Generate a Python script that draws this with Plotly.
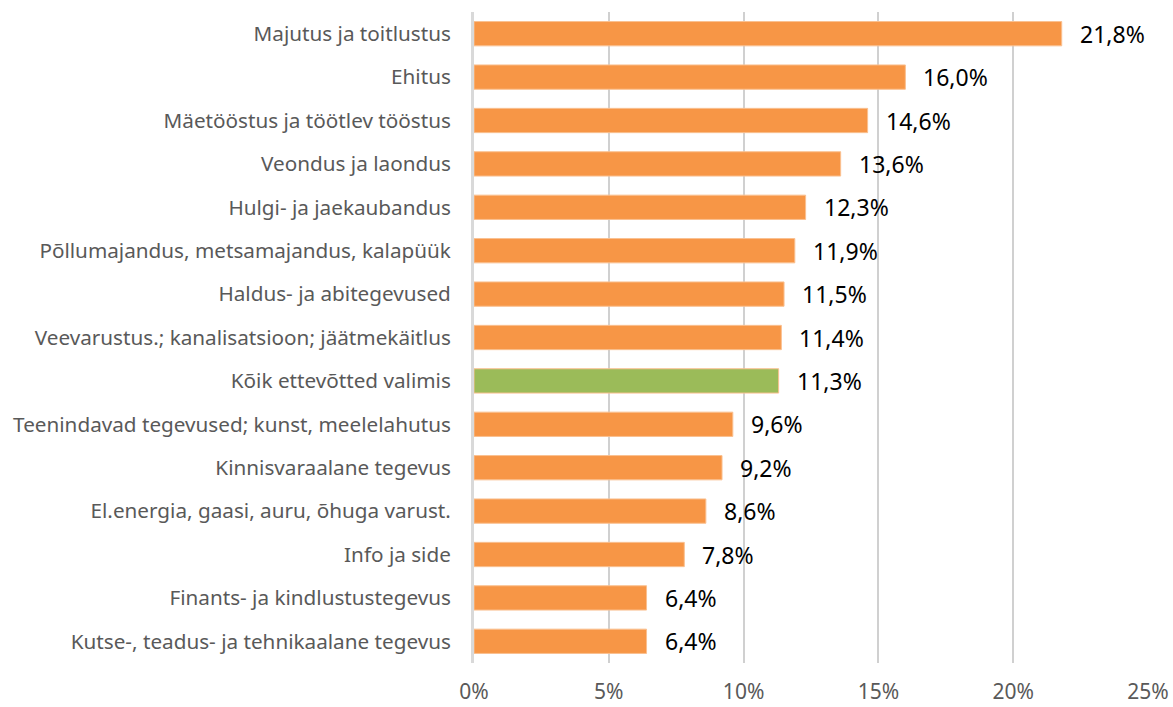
import plotly.graph_objects as go

categories = [
    "Majutus ja toitlustus",
    "Ehitus",
    "Mäetööstus ja töötlev tööstus",
    "Veondus ja laondus",
    "Hulgi- ja jaekaubandus",
    "Põllumajandus, metsamajandus, kalapüük",
    "Haldus- ja abitegevused",
    "Veevarustus.; kanalisatsioon; jäätmekäitlus",
    "Kõik ettevõtted valimis",
    "Teenindavad tegevused; kunst, meelelahutus",
    "Kinnisvaraalane tegevus",
    "El.energia, gaasi, auru, õhuga varust.",
    "Info ja side",
    "Finants- ja kindlustustegevus",
    "Kutse-, teadus- ja tehnikaalane tegevus",
]
values = [21.8, 16.0, 14.6, 13.6, 12.3, 11.9, 11.5, 11.4, 11.3, 9.6, 9.2, 8.6, 7.8, 6.4, 6.4]
highlight = "Kõik ettevõtted valimis"
tick_vals = [0, 5, 10, 15, 20, 25]
tick_text = ["0%", "5%", "10%", "15%", "20%", "25%"]

ORANGE = "#F79646"
GREEN = "#9BBB59"
colors = [GREEN if c == highlight else ORANGE for c in categories]

fig = go.Figure()
fig.add_trace(go.Bar(
    y=categories,
    x=values,
    orientation="h",
    marker=dict(color=colors, line=dict(color="#FAC090", width=1)),
    width=0.56,
    hoverinfo="x+y",
))

for c, v in zip(categories, values):
    fig.add_annotation(
        x=v, y=c, xref="x", yref="y",
        text=f"{v:.1f}%".replace(".", ","),
        showarrow=False, xanchor="left", yanchor="middle",
        xshift=16,
        font=dict(family="Noto Sans, sans-serif", size=23, color="#000000"),
    )

fig.update_layout(
    width=1173, height=707,
    margin=dict(l=474, r=25, t=12, b=44, autoexpand=False),
    paper_bgcolor="white", plot_bgcolor="white",
    showlegend=False,
    font=dict(family="Noto Sans, sans-serif", size=21, color="#595959"),
)
fig.update_xaxes(
    range=[0, 25], tickvals=tick_vals, ticktext=tick_text,
    showgrid=True, gridcolor="#D0D0D0", gridwidth=1.5,
    zeroline=False, showline=False, ticks="",
    tickfont=dict(size=21, color="#595959"),
    ticklabelstandoff=14, automargin=False,
)
fig.update_yaxes(
    categoryorder="array", categoryarray=categories[::-1],
    showline=True, linecolor="#D9D9D9", linewidth=3,
    showgrid=False, ticks="",
    tickfont=dict(size=20.7, color="#595959"),
    ticklabelstandoff=16, automargin=False,
)

fig.write_html(
    "out.html",
    config={"displayModeBar": False},
    post_script="document.body.style.margin='0';document.body.style.overflow='hidden';",
)
